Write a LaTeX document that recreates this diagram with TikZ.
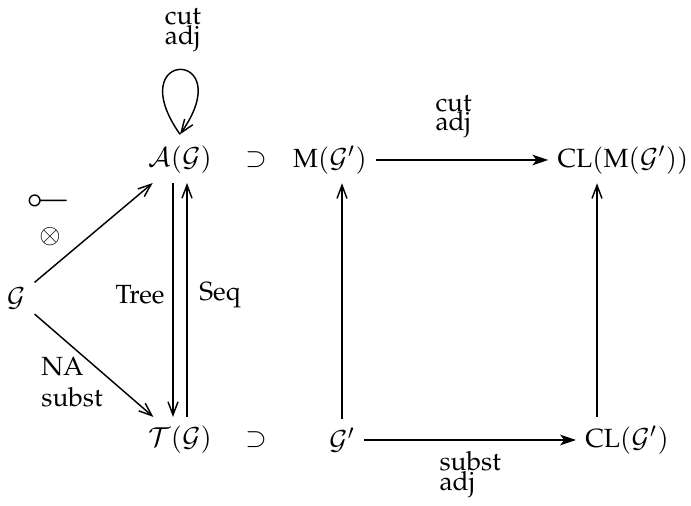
\documentclass[tikz,border=0pt]{standalone}
\usepackage[T1]{fontenc}
\usepackage{mathpazo}
\usepackage{amssymb}
\usetikzlibrary{arrows.meta}
\tikzset{
  arr/.style={-{Straight Barb[length=5pt,width=3.8pt]}, line width=0.55pt},
  harr/.style={-{Stealth[length=6pt,width=4pt,inset=1.5pt]}, line width=0.55pt},
  lbl/.style={align=left, inner sep=1pt},
}
\begin{document}
\begin{tikzpicture}[x=0.38pt,y=-0.38pt]
\useasboundingbox (0,0) rectangle (691,506);
% left triangle
\node (G) at (16,298) {$\mathcal{G}$};
\node (AG) at (180,160) {$\mathcal{A}(\mathcal{G})$};
\node (TG) at (180,440) {$\mathcal{T}(\mathcal{G})$};
\node (supA) at (256,160) {$\supset$};
\node (supT) at (256,440) {$\supset$};
% square
\node (MG) at (330,160) {$\mathrm{M}(\mathcal{G}')$};
\node (CLM) at (623,160) {$\mathrm{CL}(\mathrm{M}(\mathcal{G}'))$};
\node (Gp) at (342,440) {$\mathcal{G}'$};
\node (CLG) at (627,440) {$\mathrm{CL}(\mathcal{G}')$};
% loop
\coordinate (Aloop) at ([yshift=1pt]AG.north);
\draw[arr] (Aloop) to[out=125,in=55,min distance=40pt] (Aloop);
\node[lbl] (loopl) at (183,30) {cut\\[-4.5pt]adj};
% arrows
\draw[arr] (G) -- (AG);
\draw[arr] (G) -- (TG);
\node (lolli) at (48,200) {\scalebox{1.4}{\reflectbox{$\multimap$}}};
\node (otimes) at (50,237) {$\otimes$};
\node[lbl] (nal) at (72,382) {NA\\subst};
\draw[arr] ([xshift=-2.66pt]AG.south) -- ([xshift=-2.66pt]TG.north);
\draw[arr] ([xshift=2.66pt]TG.north) -- ([xshift=2.66pt]AG.south);
\node (tree) at (140,295) {Tree};
\node (seq) at (220,295) {Seq};
\draw[harr] (MG) -- (CLM) node[pos=0.45, above=7pt, lbl] {cut\\[-4.5pt]adj};
\draw[harr] (Gp) -- (CLG) node[midway, below=3pt, lbl] {subst\\[-4.5pt]adj};
\draw[arr] (Gp) -- (Gp |- MG.south);
\draw[arr] ([xshift=-11.4pt]CLG.north) -- ([xshift=-11.4pt]CLG.north |- CLM.south);
\end{tikzpicture}
\end{document}
